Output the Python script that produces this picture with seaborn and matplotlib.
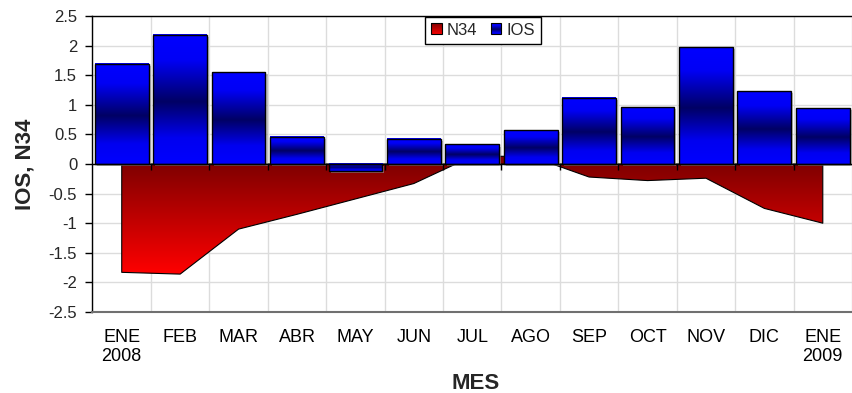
import numpy as np
import pandas as pd
import matplotlib
matplotlib.use("Agg")
import matplotlib.pyplot as plt
import seaborn as sns
from matplotlib.patches import Rectangle, Patch
from matplotlib.legend_handler import HandlerBase
from matplotlib import transforms

# ---- data -------------------------------------------------------------
months = ["ENE\n2008", "FEB", "MAR", "ABR", "MAY", "JUN", "JUL",
          "AGO", "SEP", "OCT", "NOV", "DIC", "ENE\n2009"]
ios = [1.69, 2.18, 1.55, 0.46, -0.12, 0.43, 0.33, 0.57, 1.12, 0.96, 1.97, 1.23, 0.94]
n34 = [-1.83, -1.86, -1.10, -0.85, -0.59, -0.33, 0.13, 0.13, -0.22, -0.28, -0.24, -0.75, -1.00]
yticks = [2.5, 2, 1.5, 1, 0.5, 0, -0.5, -1, -1.5, -2, -2.5]

df = pd.DataFrame({"MES": months, "IOS": ios, "N34": n34})

# ---- style ------------------------------------------------------------
sns.set_theme(style="white")
plt.rcParams["font.family"] = ["Liberation Sans", "DejaVu Sans"]
plt.rcParams["axes.unicode_minus"] = False

fig = plt.figure(figsize=(8.53, 3.93), dpi=100)
W, H = 853, 393
left, right, top, bottom = 92.5, 852, 16, 312
ax = fig.add_axes([left / W, 1 - bottom / H, (right - left) / W, (bottom - top) / H])


def blue_profile(n=256):
    """Vertical blue gradient: bright at the ends, navy in the middle."""
    t = np.linspace(0, 1, n)
    b = np.interp(t, [0, 0.2, 0.52, 0.8, 1.0], [255, 245, 100, 240, 255]) / 255.0
    arr = np.zeros((n, 1, 3))
    arr[:, 0, 2] = b
    return arr


# ---- IOS bars ---------------------------------------------------------
sns.barplot(data=df, x="MES", y="IOS", color="blue", width=0.92,
            saturation=1, ax=ax, zorder=4)

shadow_off = transforms.ScaledTranslation(1.5 / 72, -1.5 / 72, fig.dpi_scale_trans)
for p in list(ax.patches):
    x0, w = p.get_x(), p.get_width()
    y0, h = p.get_y(), p.get_height()
    ylo, yhi = min(y0, y0 + h), max(y0, y0 + h)
    # soft drop shadow
    ax.add_patch(Rectangle((x0, ylo), w, yhi - ylo, facecolor="#9a9a9a",
                           edgecolor="none", alpha=0.6,
                           transform=ax.transData + shadow_off, zorder=3))
    ax.imshow(blue_profile(), extent=[x0, x0 + w, ylo, yhi], origin="upper",
              aspect="auto", interpolation="bilinear", zorder=3.5)
    p.set_facecolor("none")
    p.set_edgecolor("black")
    p.set_linewidth(1.0)

# ---- N34 area ---------------------------------------------------------
xpos = np.arange(len(months))
area = ax.fill_between(xpos, df["N34"], 0, facecolor="none",
                       edgecolor="black", linewidth=0.8, zorder=2.5)
ymin, ymax = min(n34), max(0, max(n34))
n = 256
yy = np.linspace(ymax, ymin, n)
tt = np.clip(yy / ymin, 0, 1)
red = np.zeros((n, 1, 3))
red[:, 0, 0] = 0.5 + 0.5 * tt
img = ax.imshow(red, extent=[xpos[0], xpos[-1], ymin, ymax], origin="upper",
                aspect="auto", interpolation="bilinear", zorder=2)
img.set_clip_path(area.get_paths()[0], transform=ax.transData)

# ---- axes decoration -------------------------------------------------
ax.set_xlim(-0.5, len(months) - 0.5)
ax.set_ylim(-2.5, 2.5)
ax.set_yticks(yticks)
ax.set_yticklabels([f"{v:g}" for v in yticks], fontsize=12)
ax.set_xticks(xpos)
ax.set_xticklabels(months, fontsize=13)
ax.set_xticks(np.arange(-0.5, len(months), 1), minor=True)

ax.tick_params(axis="x", which="both", length=0, pad=12, colors="black")
ax.tick_params(axis="y", which="major", direction="out", length=5, width=1,
               pad=6, color="black", left=True)

ax.set_axisbelow(True)
ax.grid(which="minor", axis="x", color="#dcdcdc", linewidth=1)
ax.grid(which="major", axis="y", color="#dcdcdc", linewidth=1)
ax.grid(which="major", axis="x", visible=False)

ax.axhline(0, color="black", linewidth=1, zorder=5)
ax.vlines(np.arange(0.5, len(months) - 1), -0.1, 0, color="black",
          linewidth=1, zorder=5)

for s in ["left", "top"]:
    ax.spines[s].set_color("black")
    ax.spines[s].set_linewidth(1)
ax.spines["right"].set_visible(False)
ax.spines["bottom"].set_color("#707070")
ax.spines["bottom"].set_linewidth(1.5)

ax.set_xlabel("MES", fontsize=16, fontweight="bold")
ax.set_ylabel("IOS, N34", fontsize=16, fontweight="bold")
ax.xaxis.set_label_coords(0.504, -0.205)
ax.yaxis.set_label_coords(-0.075, 0.5)


# ---- legend with gradient swatches -----------------------------------
class GradientHandler(HandlerBase):
    def __init__(self, kind):
        super().__init__()
        self.kind = kind

    def create_artists(self, legend, orig_handle, xdescent, ydescent,
                       width, height, fontsize, trans):
        arts = []
        nstrip = 12
        sh = height / nstrip
        for i in range(nstrip):
            t = (i + 0.5) / nstrip  # 0 bottom -> 1 top
            if self.kind == "red":
                c = (1.0 - 0.5 * t, 0, 0)
            else:
                b = np.interp(1 - t, [0, 0.2, 0.52, 0.8, 1.0],
                              [255, 245, 100, 240, 255]) / 255.0
                c = (0, 0, b)
            arts.append(Rectangle((-xdescent, -ydescent + i * sh), width, sh,
                                  facecolor=c, edgecolor="none", transform=trans))
        arts.append(Rectangle((-xdescent, -ydescent), width, height,
                              facecolor="none", edgecolor="black", linewidth=0.8,
                              transform=trans))
        return arts


h_red = Patch(label="N34")
h_blue = Patch(label="IOS")
leg = ax.legend(handles=[h_red, h_blue], labels=["N34", "IOS"],
                handler_map={h_red: GradientHandler("red"),
                             h_blue: GradientHandler("blue")},
                loc="upper center", bbox_to_anchor=(0.514, 0.997), ncol=2,
                fontsize=12, frameon=True, fancybox=False, framealpha=1,
                handlelength=0.65, handleheight=0.65, handletextpad=0.3,
                columnspacing=0.8, borderpad=0.35, borderaxespad=0)
leg.get_frame().set_edgecolor("black")
leg.get_frame().set_linewidth(1)
leg.set_zorder(10)

fig.savefig("out.png", dpi=100)
